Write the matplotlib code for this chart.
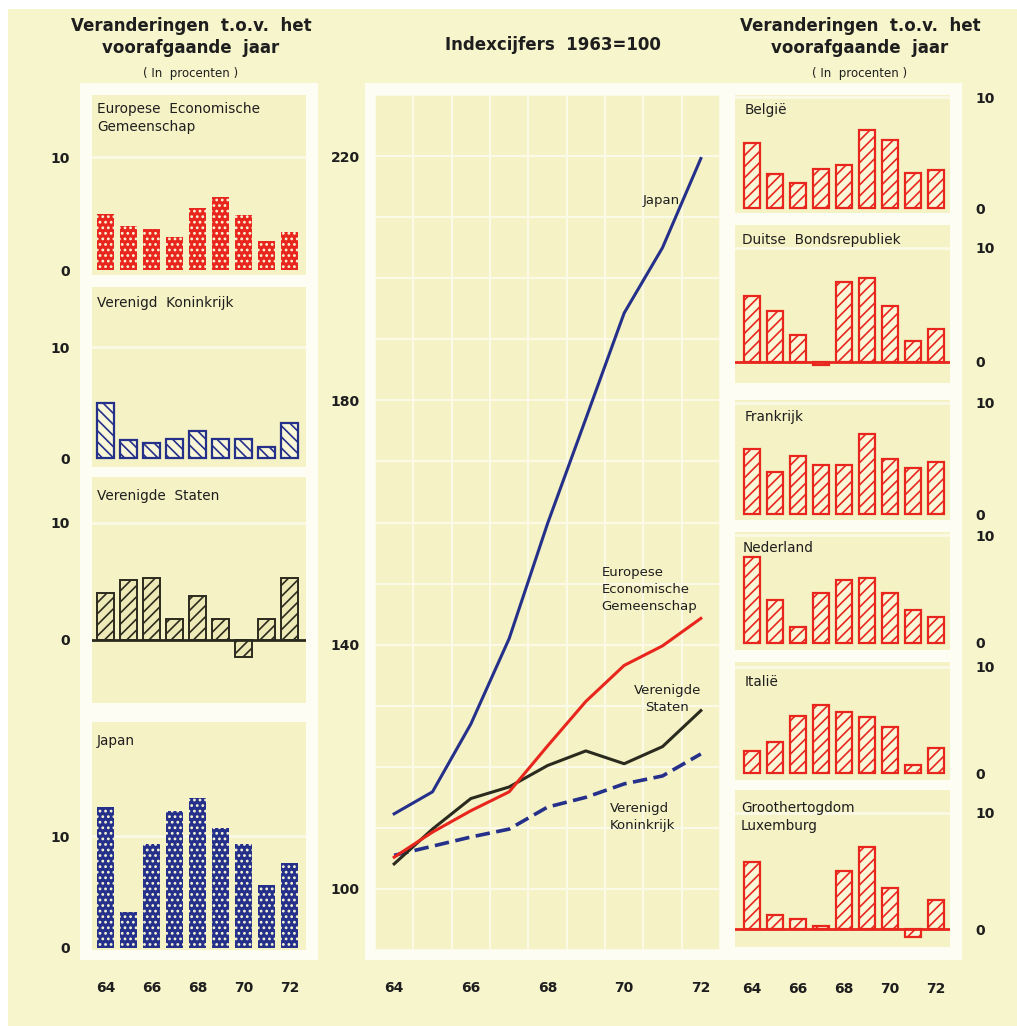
import matplotlib.pyplot as plt
from matplotlib.patches import Rectangle

plt.rcParams['font.family'] = 'DejaVu Sans'
plt.rcParams['hatch.linewidth'] = 1.2

# ---- data ----
years = [64, 65, 66, 67, 68, 69, 70, 71, 72]
year_ticks = [64, 66, 68, 70, 72]

# yearly changes in percent
eeg_pct = [5.0, 3.9, 3.6, 2.9, 5.5, 6.5, 4.9, 2.6, 3.4]
vk_pct = [5.0, 1.6, 1.4, 1.7, 2.4, 1.7, 1.7, 1.0, 3.2]
vs_pct = [4.0, 5.1, 5.3, 1.8, 3.7, 1.8, -1.5, 1.8, 5.3]
japan_pct = [12.6, 3.2, 9.3, 12.2, 13.4, 10.7, 9.3, 5.6, 7.6]
belgie_pct = [5.9, 3.1, 2.3, 3.5, 3.9, 7.0, 6.1, 3.2, 3.4]
duitsland_pct = [5.8, 4.5, 2.4, -0.3, 7.0, 7.4, 4.9, 1.8, 2.9]
frankrijk_pct = [5.9, 3.8, 5.2, 4.4, 4.4, 7.2, 5.0, 4.1, 4.7]
nederland_pct = [8.0, 4.0, 1.5, 4.6, 5.8, 6.0, 4.6, 3.1, 2.4]
italie_pct = [2.1, 2.9, 5.4, 6.4, 5.8, 5.3, 4.3, 0.8, 2.4]
luxemburg_pct = [5.8, 1.2, 0.9, 0.3, 5.0, 7.1, 3.5, -0.7, 2.5]

# index figures 1963=100
japan_idx = [112.3, 115.9, 127.0, 141.0, 159.8, 177.0, 194.3, 205.0, 219.6]
eeg_idx = [105.2, 109.3, 112.8, 115.9, 123.4, 130.7, 136.6, 139.8, 144.3]
vs_idx = [104.1, 109.8, 114.8, 116.7, 120.2, 122.6, 120.5, 123.3, 129.2]
vk_idx = [105.5, 107.0, 108.5, 109.8, 113.4, 115.0, 117.2, 118.5, 122.1]

# ---- colours ----
BG = '#f7f5cc'
PANEL = '#f5f2c5'
FRAME = '#fdfdf4'
GRID = '#fafae6'
BAR_BG = '#f9f7d8'
OLIVE_BG = '#eeeab8'
RED = '#e8261d'
NAVY = '#25308a'
DARK = '#2b2a1e'
TEXT = '#1e1e1e'

W, H = 1017, 1026
fig = plt.figure(figsize=(W / 100, H / 100), dpi=100)
fig.patch.set_facecolor('white')


def box(x0, y0, x1, y1):
    # pixel box (top-left origin) -> figure fraction
    return [x0 / W, 1 - y1 / H, (x1 - x0) / W, (y1 - y0) / H]


def frame(x0, y0, x1, y1, color, z):
    b = box(x0, y0, x1, y1)
    fig.add_artist(Rectangle((b[0], b[1]), b[2], b[3], transform=fig.transFigure,
                             facecolor=color, edgecolor='none', zorder=z))


frame(8, 9, W, H, BG, -3)
frame(80, 83, 318, 960, FRAME, -2)
frame(365, 83, 962, 960, FRAME, -2)

styles = {
    'red_dots': dict(color=RED, edgecolor=BAR_BG, hatch='...', linewidth=0),
    'navy_dots': dict(color=NAVY, edgecolor=BAR_BG, hatch='...', linewidth=0),
    'navy_back': dict(color=BAR_BG, edgecolor=NAVY, hatch='\\\\\\', linewidth=1.6),
    'olive': dict(color=OLIVE_BG, edgecolor=DARK, hatch='///', linewidth=1.4),
    'red_hatch': dict(color=BAR_BG, edgecolor=RED, hatch='///', linewidth=1.6),
}


def bar_panel(rect, values, style, ylim, xlim, width, title, side,
              title_off, baseline=None, xlabels=False, xpad=21):
    ax = fig.add_axes(box(*rect))
    ax.set_facecolor(PANEL)
    ax.bar(years, values, width=width, zorder=2, **styles[style])
    ax.axhline(10, color=GRID, lw=2, zorder=0.5)
    if baseline:
        ax.axhline(0, color=baseline, lw=2, zorder=3)
    ax.set_xlim(*xlim)
    ax.set_ylim(*ylim)
    for s in ax.spines.values():
        s.set_visible(False)
    ax.set_yticks([0, 10])
    ax.set_yticklabels(['0', '10'], fontsize=10, fontweight='bold', color=TEXT)
    if side == 'left':
        ax.yaxis.tick_left()
        ax.tick_params(axis='y', length=0, pad=16)
    else:
        ax.yaxis.tick_right()
        ax.tick_params(axis='y', length=0, pad=18)
    if xlabels:
        ax.set_xticks(year_ticks)
        ax.set_xticklabels([str(y) for y in year_ticks], fontsize=10,
                           fontweight='bold', color=TEXT)
        ax.tick_params(axis='x', length=0, pad=xpad)
    else:
        ax.set_xticks([])
    ax.annotate(title, (0, 1), xycoords='axes fraction', xytext=title_off,
                textcoords='offset pixels', ha='left', va='top', fontsize=9.8,
                color=TEXT, linespacing=1.35, zorder=5)
    return ax


left_x = (63.4, 72.7)
right_x = (63.26, 72.6)

# left column
bar_panel((92, 95, 306, 275), eeg_pct, 'red_dots', (-0.44, 15.5), left_x, 0.74,
          'Europese  Economische\nGemeenschap', 'left', (5, -7))
bar_panel((92, 287, 306, 467), vk_pct, 'navy_back', (-0.8, 15.4), left_x, 0.74,
          'Verenigd  Koninkrijk', 'left', (5, -9))
bar_panel((92, 477, 306, 703), vs_pct, 'olive', (-5.4, 13.9), left_x, 0.74,
          'Verenigde  Staten', 'left', (5, -12), baseline=DARK)
bar_panel((92, 722, 306, 950), japan_pct, 'navy_dots', (-0.18, 20.2), left_x, 0.74,
          'Japan', 'left', (5, -12), xlabels=True, xpad=22)

# right column
bar_panel((735, 95, 950, 213), belgie_pct, 'red_hatch', (-0.45, 10.2), right_x, 0.68,
          'België', 'right', (10, -8))
bar_panel((735, 225, 950, 383), duitsland_pct, 'red_hatch', (-1.84, 12.0), right_x, 0.68,
          'Duitse  Bondsrepubliek', 'right', (7, -8), baseline=RED)
bar_panel((735, 400, 950, 520), frankrijk_pct, 'red_hatch', (-0.54, 10.27), right_x, 0.68,
          'Frankrijk', 'right', (10, -10))
bar_panel((735, 532, 950, 650), nederland_pct, 'red_hatch', (-0.65, 10.28), right_x, 0.68,
          'Nederland', 'right', (8, -9))
bar_panel((735, 662, 950, 780), italie_pct, 'red_hatch', (-0.66, 10.47), right_x, 0.68,
          'Italië', 'right', (10, -13))
bar_panel((735, 790, 950, 947), luxemburg_pct, 'red_hatch', (-1.55, 11.98), right_x, 0.68,
          'Groothertogdom\nLuxemburg', 'right', (6, -11), baseline=RED,
          xlabels=True, xpad=25)

# main index chart
ax = fig.add_axes(box(375, 95, 720, 950))
ax.set_facecolor(PANEL)
ax.set_xlim(63.53, 72.47)
ax.set_ylim(90, 230)
for s in ax.spines.values():
    s.set_visible(False)
ax.set_yticks(range(90, 231, 10))
ax.set_yticklabels([str(v) if v in (100, 140, 180, 220) else '' for v in range(90, 231, 10)],
                   fontsize=10, fontweight='bold', color=TEXT)
ax.set_xticks(year_ticks)
ax.set_xticklabels([str(y) for y in year_ticks], fontsize=10, fontweight='bold', color=TEXT)
ax.set_xticks([y + 0.5 for y in range(63, 73)], minor=True)
ax.tick_params(which='both', length=0)
ax.tick_params(axis='y', pad=11)
ax.tick_params(axis='x', pad=22)
ax.grid(axis='y', which='major', color=GRID, lw=1.6)
ax.grid(axis='x', which='minor', color=GRID, lw=1.6)
ax.set_axisbelow(True)

ax.plot(years, vk_idx, color=NAVY, lw=2.6, dashes=(4, 1.8), solid_capstyle='butt')
ax.plot(years, vs_idx, color=DARK, lw=2.2)
ax.plot(years, eeg_idx, color=RED, lw=2.2)
ax.plot(years, japan_idx, color=NAVY, lw=2.2)

ax.text(71.46, 212.8, 'Japan', ha='right', va='center', fontsize=9.5, color=TEXT)
ax.text(69.41, 149.0, 'Europese\nEconomische\nGemeenschap', ha='left', va='center',
        fontsize=9.5, color=TEXT, linespacing=1.4)
ax.text(71.12, 131.1, 'Verenigde\nStaten', ha='center', va='center',
        fontsize=9.5, color=TEXT, linespacing=1.4)
ax.text(69.62, 111.8, 'Verenigd\nKoninkrijk', ha='left', va='center',
        fontsize=9.5, color=TEXT, linespacing=1.4)

# headings
head = 'Veranderingen  t.o.v.  het\nvoorafgaande  jaar'
for cx in (191, 860):
    fig.text(cx / W, 1 - 37 / H, head, ha='center', va='center', fontsize=12,
             fontweight='bold', color=TEXT, linespacing=1.3)
    fig.text(cx / W, 1 - 73 / H, '( In  procenten )', ha='center', va='center',
             fontsize=8.5, color=TEXT)
fig.text(553 / W, 1 - 45 / H, 'Indexcijfers  1963=100', ha='center', va='center',
         fontsize=12, fontweight='bold', color=TEXT)

fig.savefig('out.png', dpi=100, facecolor=fig.get_facecolor())
